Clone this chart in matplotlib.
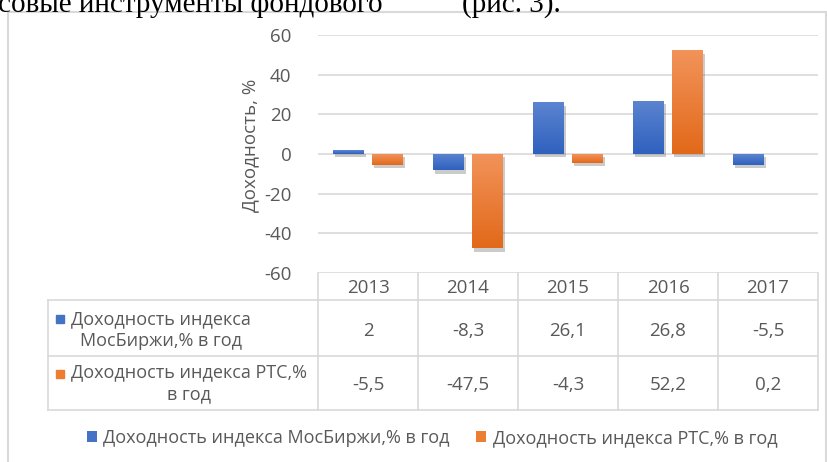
import matplotlib
matplotlib.use("Agg")
import matplotlib.pyplot as plt
import matplotlib.patheffects as pe
from matplotlib.patches import Rectangle
from matplotlib.lines import Line2D
from matplotlib.colors import LinearSegmentedColormap
from matplotlib.transforms import blended_transform_factory
import numpy as np

years = ["2013", "2014", "2015", "2016", "2017"]
moex = [2, -8.3, 26.1, 26.8, -5.5]
rts = [-5.5, -47.5, -4.3, 52.2, 0.2]
series_names = ["Доходность индекса МосБиржи,% в год", "Доходность индекса РТС,% в год"]
row_labels = ["Доходность индекса\nМосБиржи,% в год", "Доходность индекса РТС,%\nв год"]
y_ticks = [-60, -40, -20, 0, 20, 40, 60]
y_label = "Доходность, %"

BLUE = "#4472C4"
ORANGE = "#ED7D31"
BLUE_GRAD = ["#5C84D0", "#2F61BE"]
ORANGE_GRAD = ["#F2935A", "#E2691A"]
GRAY_TXT = "#595959"
GRID = "#D9D9D9"
FONT = "Open Sans"
FS = 13.5

W, H = 827, 462
fig = plt.figure(figsize=(W / 100, H / 100), dpi=100)
fx = lambda x: x / W
fy = lambda y: 1 - y / H

# outer chart frame
fig.add_artist(Rectangle((fx(8), fy(470)), fx(826) - fx(8), fy(12) - fy(470),
                         transform=fig.transFigure, fill=False, ec=GRID, lw=1.5))

# cut-off text line above chart (partially outside the image, as in the reference)
fig.text(fx(-2), fy(12), "совые инструменты фондового", family="Liberation Serif",
         fontsize=21, va="baseline", ha="left", color="black")
fig.text(fx(462), fy(12), "(рис. 3).", family="Liberation Serif",
         fontsize=21, va="baseline", ha="left", color="black")

ax = fig.add_axes([fx(318), fy(273), fx(818) - fx(318), fy(35) - fy(273)])
x = np.arange(len(years))
bw = 0.31
shadow = [pe.SimplePatchShadow(offset=(1.5, -2.5), alpha=0.3, shadow_rgbFace="#555555"), pe.Normal()]
b1 = ax.bar(x - 0.195, moex, width=bw, color=BLUE, zorder=3, label=series_names[0])
b2 = ax.bar(x + 0.195, rts, width=bw, color=ORANGE, zorder=3, label=series_names[1])
for b in list(b1) + list(b2):
    b.set_path_effects(shadow)

# vertical gradient fill clipped to each bar
grad = np.linspace(0, 1, 64).reshape(-1, 1)
for bars, cols in ((b1, BLUE_GRAD), (b2, ORANGE_GRAD)):
    cmap = LinearSegmentedColormap.from_list("g", cols)
    for b in bars:
        x0, y0 = b.get_x(), b.get_y()
        w, h = b.get_width(), b.get_height()
        lo, hi = min(y0, y0 + h), max(y0, y0 + h)
        im = ax.imshow(grad, cmap=cmap, aspect="auto", origin="upper",
                       extent=(x0, x0 + w, lo, hi), zorder=3.5, interpolation="bilinear")
        im.set_clip_path(b)

ax.set_xlim(-0.5, len(years) - 0.5)
ax.set_ylim(-60, 60)
ax.set_yticks(y_ticks)
ax.set_yticklabels([str(t) for t in y_ticks], family=FONT, fontsize=FS, color=GRAY_TXT)
ax.set_xticks([])
ax.tick_params(axis="y", length=0, pad=19)
ax.grid(axis="y", color=GRID, lw=1.2, zorder=0)
for s in ax.spines.values():
    s.set_visible(False)
ax.set_ylabel(y_label, family=FONT, fontsize=FS, color=GRAY_TXT)
ax.yaxis.set_label_coords((259 - 318) / 500, 0.535)

# data table below the axis
bt = blended_transform_factory(ax.transData, fig.transFigure)
lk = dict(color=GRID, lw=1.2)
for i in range(len(years) + 1):
    fig.add_artist(Line2D([i - 0.5, i - 0.5], [fy(273), fy(410)], transform=bt, **lk))
fig.add_artist(Line2D([fx(48), fx(48)], [fy(300), fy(410)], transform=fig.transFigure, **lk))
for yy in (300, 356, 410):
    fig.add_artist(Line2D([fx(48), fx(818)], [fy(yy), fy(yy)], transform=fig.transFigure, **lk))

fmt = lambda v: ("%g" % v).replace(".", ",")
for i, yr in enumerate(years):
    fig.text(i, fy(288), yr, transform=bt, ha="center", va="center",
             family=FONT, fontsize=FS, color=GRAY_TXT)
    fig.text(i, fy(331), fmt(moex[i]), transform=bt, ha="center", va="center",
             family=FONT, fontsize=FS, color=GRAY_TXT)
    fig.text(i, fy(385), fmt(rts[i]), transform=bt, ha="center", va="center",
             family=FONT, fontsize=FS, color=GRAY_TXT)

for lab, col, yc, sq in ((row_labels[0], BLUE, 330, 319), (row_labels[1], ORANGE, 383, 374)):
    fig.add_artist(Rectangle((fx(56), fy(sq + 4)), fx(8), fy(0) - fy(8),
                             transform=fig.transFigure, color=col))
    fig.text(fx(71), fy(yc), lab, ha="left", va="center", multialignment="center",
             family=FONT, fontsize=13, color=GRAY_TXT, linespacing=1.3)

leg = fig.legend(handles=[b1, b2], labels=series_names, loc="center",
                 bbox_to_anchor=(fx(432), fy(438)), ncol=2, frameon=False,
                 prop=dict(family=FONT, size=13), handlelength=0.55, handleheight=0.55,
                 handletextpad=0.35, columnspacing=1.5, labelcolor=GRAY_TXT)
for h in leg.legend_handles:
    h.set_path_effects([])

fig.savefig("out.png", dpi=100)
